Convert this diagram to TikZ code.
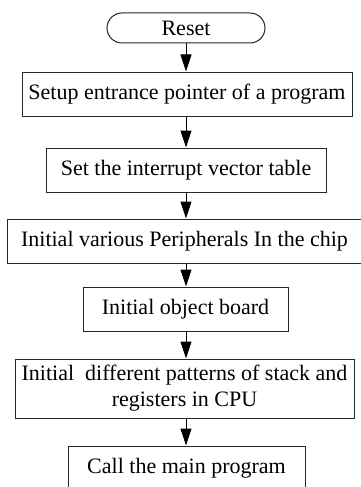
\documentclass[tikz,border=0pt]{standalone}
\usepackage{fontspec}
\setmainfont{Liberation Serif}
\usetikzlibrary{arrows.meta}
\begin{document}
\begin{tikzpicture}[x=1pt,y=-1pt,
  box/.style={draw=black!85,line width=1pt,inner sep=0pt,align=center,
    font=\fontsize{22}{26}\selectfont},
  term/.style={box,rounded corners=15pt},
  flow/.style={draw=black,line width=1pt,-{Triangle[length=17pt,width=11pt]}}]
\clip (0,0) rectangle (361,487);
\node[term,minimum width=158pt,minimum height=30pt] (reset) at (186,28) {Reset};
\node[box,minimum width=330pt,minimum height=44pt] (b1) at (187,94) {Setup entrance pointer of a program};
\node[box,minimum width=280pt,minimum height=44pt] (b2) at (186,170) {Set the interrupt vector table};
\node[box,minimum width=355pt,minimum height=44pt] (b3) at (184.5,241) {Initial various Peripherals In the chip};
\node[box,minimum width=205pt,minimum height=44pt] (b4) at (185.5,309) {Initial object board};
\node[box,minimum width=339pt,minimum height=59pt] (b5) at (184.5,388.5) {Initial\ \ different patterns of stack and\\registers in CPU};
\node[box,minimum width=237pt,minimum height=44pt] (b6) at (186.5,468) {Call the main program};
\draw[flow] (reset.south -| 186,0) -- (b1.north -| 186,0);
\draw[flow] (b1.south -| 186,0) -- (b2.north -| 186,0);
\draw[flow] (b2.south -| 186,0) -- (b3.north -| 186,0);
\draw[flow] (b3.south -| 186,0) -- (b4.north -| 186,0);
\draw[flow] (b4.south -| 186,0) -- (b5.north -| 186,0);
\draw[flow] (b5.south -| 186,0) -- (b6.north -| 186,0);
\end{tikzpicture}
\end{document}
